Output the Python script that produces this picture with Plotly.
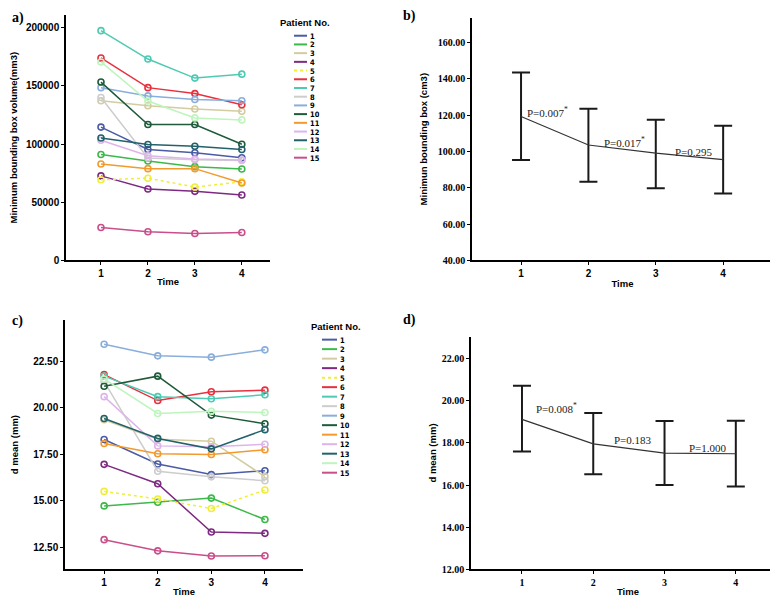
import plotly.graph_objects as go

# ---- data ----
time = [1, 2, 3, 4]
patients = [str(i) for i in range(1, 16)]

# a) minimum bounding box volume (mm3), one list per patient
vol_p1 = [114600, 95300, 92500, 88300]
vol_p2 = [91100, 85400, 80600, 78600]
vol_p3 = [137200, 133000, 130100, 128200]
vol_p4 = [72700, 61400, 59400, 56300]
vol_p5 = [69300, 70700, 63100, 67600]
vol_p6 = [174000, 148500, 143400, 133800]
vol_p7 = [197500, 173100, 156700, 160100]
vol_p8 = [140000, 88000, 86500, 86000]
vol_p9 = [148500, 141400, 138300, 137200]
vol_p10 = [153300, 116800, 116800, 99900]
vol_p11 = [82900, 78900, 78900, 66500]
vol_p12 = [103300, 90000, 87100, 86300]
vol_p13 = [105200, 99600, 98200, 95300]
vol_p14 = [170600, 137000, 122500, 120800]
vol_p15 = [28300, 24600, 23200, 24000]

# c) d mean (mm)
dm_p1 = [18.29, 16.98, 16.41, 16.62]
dm_p2 = [14.73, 14.93, 15.15, 14.00]
dm_p3 = [19.35, 18.30, 18.20, 16.30]
dm_p4 = [16.96, 15.92, 13.33, 13.26]
dm_p5 = [15.51, 15.10, 14.59, 15.58]
dm_p6 = [21.77, 20.38, 20.85, 20.94]
dm_p7 = [21.69, 20.59, 20.48, 20.69]
dm_p8 = [21.40, 16.59, 16.29, 16.08]
dm_p9 = [23.40, 22.78, 22.71, 23.10]
dm_p10 = [21.15, 21.69, 19.60, 19.14]
dm_p11 = [18.08, 17.53, 17.49, 17.74]
dm_p12 = [20.59, 17.95, 17.90, 18.04]
dm_p13 = [19.42, 18.35, 17.79, 18.82]
dm_p14 = [21.54, 19.69, 19.81, 19.74]
dm_p15 = [12.92, 12.32, 12.04, 12.06]

# b) mean bounding box (cm3) with interval limits
box_mean = [119.3, 103.6, 99.1, 95.5]
box_upper = [143.5, 123.5, 117.5, 114.2]
box_lower = [95.3, 83.3, 79.8, 76.9]
box_p = ["P=0.007<sup>*</sup>", "P=0.017<sup>*</sup>", "P=0.295"]

# d) d mean (mm) with interval limits
dmean_mean = [19.12, 17.96, 17.52, 17.49]
dmean_upper = [20.72, 19.42, 19.04, 19.06]
dmean_lower = [17.59, 16.51, 16.01, 15.93]
dmean_p = ["P=0.008<sup>*</sup>", "P=0.183", "P=1.000"]

vol_all = [vol_p1, vol_p2, vol_p3, vol_p4, vol_p5, vol_p6, vol_p7, vol_p8,
           vol_p9, vol_p10, vol_p11, vol_p12, vol_p13, vol_p14, vol_p15]
dm_all = [dm_p1, dm_p2, dm_p3, dm_p4, dm_p5, dm_p6, dm_p7, dm_p8,
          dm_p9, dm_p10, dm_p11, dm_p12, dm_p13, dm_p14, dm_p15]

colors = ['#4B5BA6', '#3DB84A', '#D3CCA0', '#7D2A82', '#F0EE3A', '#E8303F',
          '#4ECAB3', '#CDCDCD', '#89AEDB', '#1E5B3A', '#F39A2E', '#DDB5EC',
          '#22626B', '#BDF5BD', '#C94F8A']
dashes = ['solid'] * 15
dashes[4] = 'dot'

W, H = 778, 598
def px(x):
    return x / W
def py(y):
    return 1 - y / H

fig = go.Figure()

# spaghetti plots a) and c)
for i in range(15):
    fig.add_trace(go.Scatter(x=time, y=vol_all[i], mode='lines+markers', name=patients[i],
                             line=dict(color=colors[i], width=1.5, dash=dashes[i]),
                             marker=dict(symbol='circle-open', size=6, color=colors[i], line=dict(width=1.6)),
                             xaxis='x', yaxis='y', showlegend=False))
    fig.add_trace(go.Scatter(x=time, y=dm_all[i], mode='lines+markers', name=patients[i],
                             line=dict(color=colors[i], width=1.5, dash=dashes[i]),
                             marker=dict(symbol='circle-open', size=6, color=colors[i], line=dict(width=1.6)),
                             xaxis='x3', yaxis='y3', showlegend=False))

# mean plots with error bars b) and d)
def mean_trace(mean, upper, lower, xa, ya):
    return go.Scatter(x=time, y=mean, mode='lines', line=dict(color='#333333', width=1.2),
                      error_y=dict(type='data', symmetric=False,
                                   array=[u - m for u, m in zip(upper, mean)],
                                   arrayminus=[m - l for m, l in zip(mean, lower)],
                                   color='#1a1a1a', thickness=2, width=9),
                      xaxis=xa, yaxis=ya, showlegend=False)

fig.add_trace(mean_trace(box_mean, box_upper, box_lower, 'x2', 'y2'))
fig.add_trace(mean_trace(dmean_mean, dmean_upper, dmean_lower, 'x4', 'y4'))

sans = dict(family='Arial, Liberation Sans', size=10, color='black', weight='bold')
serif = dict(family='Liberation Serif, Times New Roman', size=10, color='black', weight='bold')
title_font = dict(family='Arial, Liberation Sans', size=9.5, color='black', weight='bold')

def xaxis(dom, rng, anchor, tickfont, standoff):
    return dict(domain=dom, range=rng, anchor=anchor, tickvals=time, showgrid=False, zeroline=False,
                showline=True, linecolor='black', linewidth=1.5, ticks='outside', ticklen=3,
                tickcolor='black', tickfont=tickfont,
                title=dict(text='Time', font=title_font, standoff=standoff))

def yaxis(dom, rng, anchor, tickvals, fmt, tickfont, title, standoff):
    return dict(domain=dom, range=rng, anchor=anchor, tickvals=tickvals, tickformat=fmt,
                showgrid=False, zeroline=False, showline=True, linecolor='black', linewidth=1.5,
                ticks='outside', ticklen=3, tickcolor='black', tickfont=tickfont,
                title=dict(text=title, font=title_font, standoff=standoff))

fig.update_layout(
    width=W, height=H, margin=dict(l=0, r=0, t=0, b=0),
    paper_bgcolor='white', plot_bgcolor='white', showlegend=False,
    xaxis=xaxis([px(58), px(262)], [0.255, 4.6], 'y', sans, 0),
    yaxis=yaxis([py(255), py(7)], [0, 211000], 'x', [0, 50000, 100000, 150000, 200000], 'd',
                sans, 'Minimum bounding box volume(mm3)', 7),
    xaxis2=xaxis([px(464), px(765)], [0.272, 4.74], 'y2', sans, 2),
    yaxis2=yaxis([py(255), py(10)], [40, 173.6], 'x2', [40, 60, 80, 100, 120, 140, 160], '.2f',
                 serif, 'Minimun bounding box (cm3)', 8),
    xaxis3=xaxis([px(57), px(295)], [0.27, 4.71], 'y3', sans, 1),
    yaxis3=yaxis([py(567), py(315)], [11.33, 24.71], 'x3', [12.5, 15, 17.5, 20, 22.5], '.2f',
                 sans, 'd mean (mm)', 13),
    xaxis4=xaxis([px(463), px(777)], [0.285, 4.69], 'y4', serif, 1),
    yaxis4=yaxis([py(567), py(332)], [12, 23.05], 'x4', [12, 14, 16, 18, 20, 22], '.2f',
                 serif, 'd mean (mm)', 3),
)

annotations = []
shapes = []

# panel letters
for letter, (lx, ly) in zip(['a)', 'b)', 'c)', 'd)'], [(2, 10), (393, 8), (2, 316), (393, 315)]):
    annotations.append(dict(text=letter, x=px(lx), y=py(ly), xref='paper', yref='paper',
                            xanchor='left', yanchor='middle', showarrow=False,
                            font=dict(family='Liberation Serif', size=14, color='black', weight='bold')))

# p-values, placed between time points
p_pos_b = [(1.40, 121.5), (2.53, 105.1), (3.57, 100.0)]
for t, (x, y) in zip(box_p, p_pos_b):
    annotations.append(dict(text=t, x=x, y=y, xref='x2', yref='y2', showarrow=False,
                            font=dict(family='Liberation Serif', size=11, color='#222')))
p_pos_d = [(1.48, 19.67), (2.56, 18.13), (3.61, 17.74)]
for t, (x, y) in zip(dmean_p, p_pos_d):
    annotations.append(dict(text=t, x=x, y=y, xref='x4', yref='y4', showarrow=False,
                            font=dict(family='Liberation Serif', size=11, color='#222')))

# hand-built compact legends ("Patient No.")
def add_legend(title_x, title_y, x0, x1, y0, step):
    annotations.append(dict(text='Patient No.', x=px(title_x), y=py(title_y), xref='paper', yref='paper',
                            xanchor='center', yanchor='middle', showarrow=False,
                            font=dict(family='Arial', size=9.5, color='black', weight='bold')))
    for i in range(15):
        yy = y0 + i * step
        shapes.append(dict(type='line', xref='paper', yref='paper', x0=px(x0), x1=px(x1),
                           y0=py(yy), y1=py(yy), line=dict(color=colors[i], width=2, dash=dashes[i])))
        annotations.append(dict(text=patients[i], x=px(x1 + 1), y=py(yy), xref='paper', yref='paper',
                                xanchor='left', yanchor='middle', showarrow=False, height=8,
                                font=dict(family='DejaVu Sans Condensed, Arial', size=7.5,
                                          color='black', weight='bold')))

add_legend(297, 15, 286, 299, 28, 8.8)
add_legend(328, 322, 314, 329, 335, 9.6)

fig.update_layout(annotations=annotations, shapes=shapes)

fig.write_html("out.html")
